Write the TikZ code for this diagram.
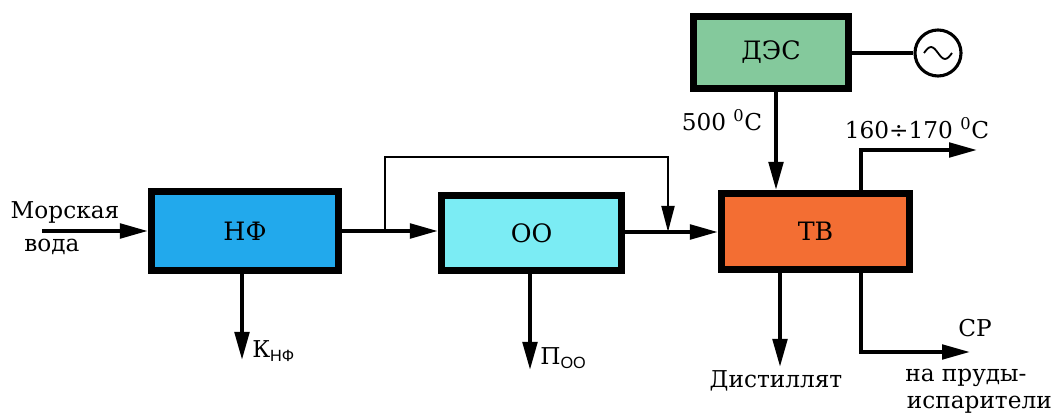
\documentclass[tikz,border=0pt]{standalone}
\usepackage{fontspec}
\setmainfont{DejaVu Serif}
\newfontfamily\serifcyr{DejaVu Serif}
\newfontfamily\subfont{Liberation Sans}
\usetikzlibrary{arrows.meta, positioning, calc}

\definecolor{nfblue}{HTML}{22A9EC}
\definecolor{oocyan}{HTML}{7BECF4}
\definecolor{tvorange}{HTML}{F36E33}
\definecolor{desgreen}{HTML}{84C99C}

\tikzset{
    unitbox/.style={draw=black, line width=5pt, font=\serifcyr\fontsize{18}{22}\selectfont},
    flow/.style={line width=2.8pt, -{Triangle[length=7mm, width=3.6mm]}},
    bypass/.style={line width=1.8pt, -{Triangle[length=6.5mm, width=3.2mm]}},
    lbl/.style={font=\serifcyr\fontsize{16.5}{20}\selectfont, inner sep=0pt}
}

\begin{document}
\begin{tikzpicture}[x=0.025cm, y=-0.025cm]
        \useasboundingbox (0,0) rectangle (1056,418);
        % Units
        \node[unitbox, fill=nfblue, minimum width=4.675cm, minimum height=1.975cm] (nf) at (245,231) {НФ};
        \node[unitbox, fill=oocyan, minimum width=4.5cm, minimum height=1.875cm] (oo) at (531.5,233) {ОО};
        \node[unitbox, fill=tvorange, minimum width=4.7cm, minimum height=1.9cm] (tv) at (815.5,231.5) {ТВ};
        \node[unitbox, fill=desgreen, minimum width=3.875cm, minimum height=1.8cm] (des) at (771,52.5) {ДЭС};
        \node[draw, circle, line width=2.2pt, minimum size=1.15cm, inner sep=0pt] (gen) at (938,53) {};
        \draw[line width=1.3pt] ($(gen.center)+(-14,0)$) sin ++(7,-6) cos ++(7,6) sin ++(7,6) cos ++(7,-6);

        % Sea water in
        \coordinate (sw) at (42,231);
        \node[lbl] (swa) at (65,212) {Морская};
        \node[lbl] (swb) at (52,247) {вода};
        \draw[flow] (sw) -- (sw -| nf.west);

        % Main line
        \coordinate (split) at (385,231);
        \coordinate (join) at (668,232);
        \draw[flow] (nf.east |- split) -- (split) -- (split -| oo.west);
        \draw[flow] (oo.east |- join) -- (join -| tv.west);
        \draw[bypass] (split) -- (385,157) -- (668,157) -- (join);

        % Outputs of NF and OO
        \coordinate (kout) at (242,360);
        \coordinate (pout) at (530,370);
        \draw[flow] (nf.south -| kout) -- (kout);
        \draw[flow] (oo.south -| pout) -- (pout);
        \node[lbl, anchor=west] (k) at (252,351) {К\textsubscript{\subfont НФ}};
        \node[lbl, anchor=west] (p) at (540,358) {П\textsubscript{\subfont ОО}};

        % DES and generator
        \draw[line width=2.8pt] (des.east |- gen) -- (gen.west);
        \coordinate (steam) at (776,0);
        \draw[flow] (des.south -| steam) -- (tv.north -| steam);
        \node[lbl] (t1) at (722,120) {500 \textsuperscript{0}C};

        % Outputs of TV
        \coordinate (hot) at (977,150);
        \draw[flow] (tv.north -| 861,0) -- (861,150) -- (hot);
        \node[lbl] (t2) at (917,128) {160÷170 \textsuperscript{0}C};
        \coordinate (dist) at (780,367);
        \draw[flow] (tv.south -| dist) -- (dist);
        \node[lbl] (d) at (776,381) {Дистиллят};
        \coordinate (sr) at (970,352);
        \draw[flow] (tv.south -| 861,0) -- (861,352) -- (sr);
        \node[lbl] (sra) at (975,328) {СР};
        \node[lbl, anchor=west] (srb) at (905,378) {на пруды-};
        \node[lbl, anchor=east] (src) at (1052,405) {испарители};
\end{tikzpicture}
\end{document}
